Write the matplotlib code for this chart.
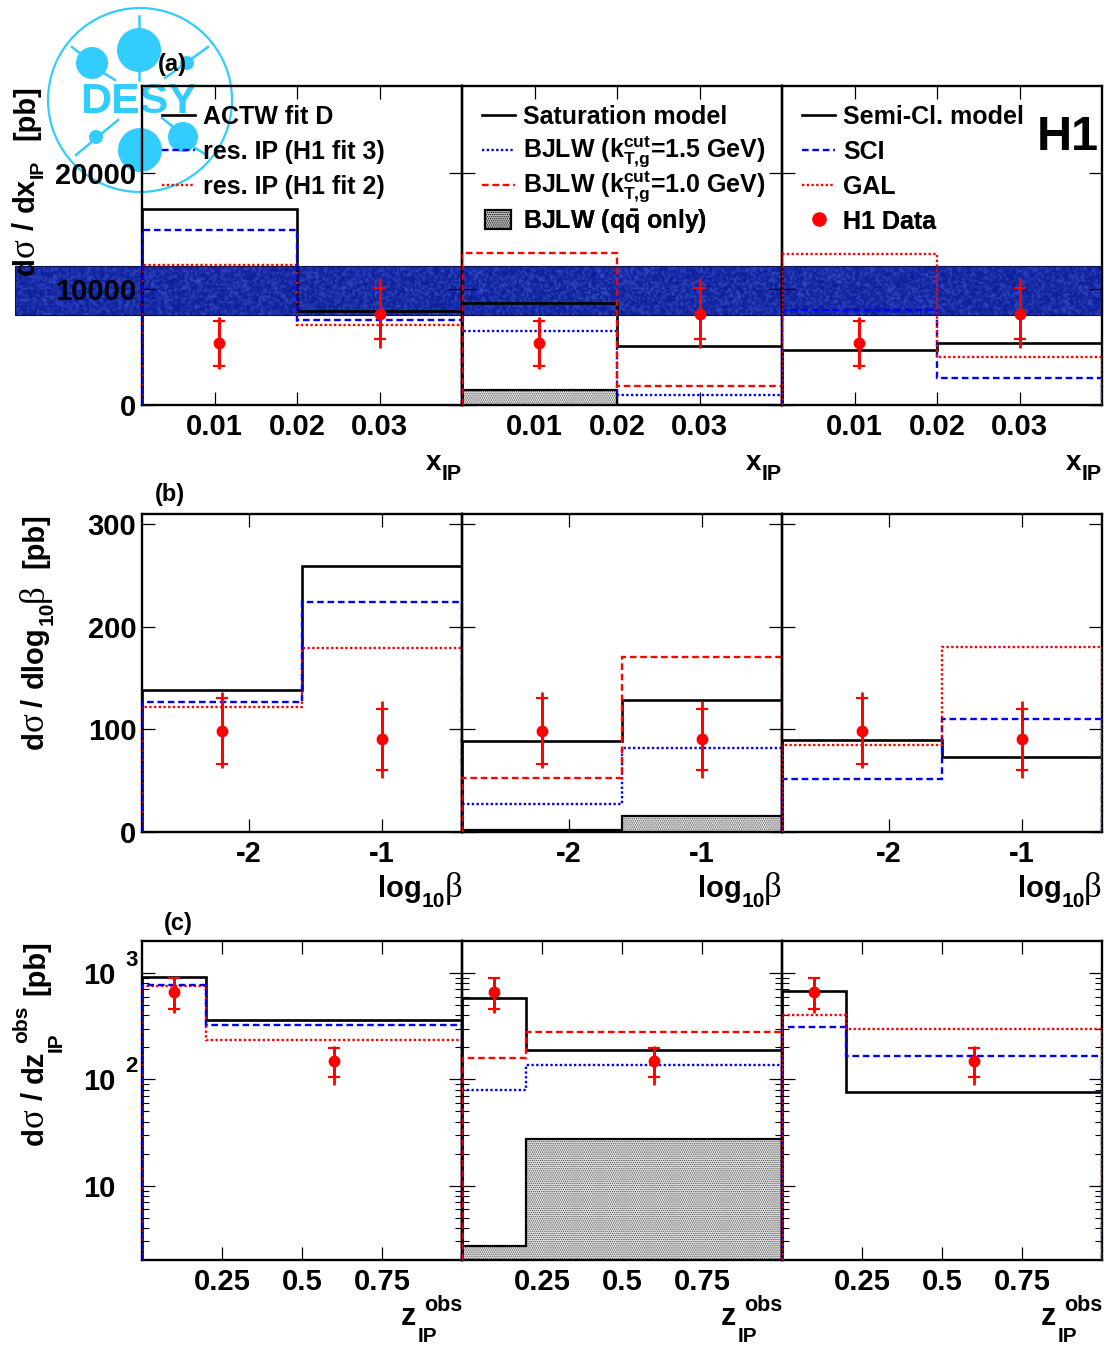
import matplotlib
matplotlib.use('Agg')
import matplotlib.pyplot as plt
from matplotlib.patches import Circle, Rectangle
import numpy as np

plt.rcParams['font.family'] = ['Liberation Sans', 'DejaVu Sans']
plt.rcParams['font.weight'] = 'bold'
plt.rcParams['mathtext.fontset'] = 'custom'
plt.rcParams['mathtext.rm'] = 'Liberation Sans:bold'
plt.rcParams['mathtext.bf'] = 'Liberation Sans:bold'
plt.rcParams['mathtext.it'] = 'Liberation Sans:bold'
plt.rcParams['mathtext.fallback'] = 'stix'
plt.rcParams['mathtext.default'] = 'bf'
plt.rcParams['hatch.linewidth'] = 0.6

W, H = 1104, 1346

# bin edges
edges_a = [0.0012, 0.02, 0.04]
edges_b = [-2.8, -1.6, -0.4]
edges_c = [0.0, 0.2, 1.0]

# row (a), d sigma / d x_IP
actw_a = [16900, 8100]
fit3_a = [15100, 7300]
fit2_a = [12100, 6900]
sat_a = [8800, 5100]
bjlw15_a = [6400, 860]
bjlw10_a = [13100, 1670]
qq_a = [1300, 0]
semi_a = [4770, 5350]
sci_a = [8200, 2300]
gal_a = [13000, 4130]
data_x_a = [0.0105, 0.03]
data_y_a = [5350, 7850]
stat_lo_a = [3390, 5680]
stat_hi_a = [7240, 10100]
tot_lo_a = [3100, 4900]
tot_hi_a = [7590, 10950]

# row (b), d sigma / d log10 beta
actw_b = [138, 259]
fit3_b = [127, 224]
fit2_b = [122, 179]
sat_b = [89, 129]
bjlw15_b = [27, 82]
bjlw10_b = [53, 171]
qq_b = [1.5, 16]
semi_b = [90, 73]
sci_b = [52, 110]
gal_b = [85, 180]
data_x_b = [-2.2, -1.0]
data_y_b = [98.6, 90.5]
stat_lo_b = [66, 60]
stat_hi_b = [131, 120]
tot_lo_b = [62, 53]
tot_hi_b = [136, 128]

# row (c), d sigma / d z_IP
actw_c = [918, 362]
fit3_c = [771, 323]
fit2_c = [755, 235]
sat_c = [587, 189]
bjlw15_c = [79, 137]
bjlw10_c = [158, 279]
qq_c = [2.71, 27.7]
semi_c = [680, 76]
sci_c = [310, 166]
gal_c = [403, 296]
data_x_c = [0.1, 0.6]
data_y_c = [668, 149]
stat_lo_c = [459, 105]
stat_hi_c = [906, 196]
tot_lo_c = [424, 88]
tot_hi_c = [925, 206]

legend_1 = ['ACTW fit D', 'res. IP (H1 fit 3)', 'res. IP (H1 fit 2)']
legend_2 = ['Saturation model',
            r'BJLW (k$_{\mathrm{T{,}g}}^{\mathrm{cut}}$=1.5 GeV)',
            r'BJLW (k$_{\mathrm{T{,}g}}^{\mathrm{cut}}$=1.0 GeV)',
            r'BJLW (q$\bar{\mathrm{q}}$ only)']
legend_3 = ['Semi-Cl. model', 'SCI', 'GAL', 'H1 Data']

black = dict(color='black', lw=1.9, ls='-')
blue_dash = dict(color='#0000ff', lw=1.7, ls=(0, (2.8, 1.6)))
blue_dot = dict(color='#0000ff', lw=1.7, ls=(0, (1, 1)))
red_dash = dict(color='#ff0000', lw=1.7, ls=(0, (2.8, 1.6)))
red_dot = dict(color='#ff0000', lw=1.7, ls=(0, (1, 1)))
LOGO = '#33ccff'
SERIF = dict(family='Liberation Serif', fontweight='normal')


def fx(px):
    return px / W


def fy(py):
    return 1 - py / H


def panel(left, top, width=320, height=319):
    ax = fig.add_axes([fx(left), fy(top + height), width / W, height / H], zorder=2)
    ax.patch.set_alpha(0)
    for s in ax.spines.values():
        s.set_linewidth(1.7)
    ax.tick_params(which='major', direction='in', top=True, right=True, length=9.5, width=0.9, labelsize=21)
    ax.tick_params(which='minor', direction='in', top=True, right=True, length=5, width=0.8)
    return ax


def draw_row(axs, edges, models, qq, dx, dy, slo, shi, tlo, thi, base):
    for ax, curves in zip(axs, models):
        if curves is models[1]:
            ax.stairs(qq, edges, baseline=base, fill=True, facecolor='#e4e4e4',
                      edgecolor='#444444', hatch='........', lw=0, zorder=2)
            ax.stairs(qq, edges, baseline=base, color='black', lw=1.6, zorder=2.5)
        for vals, style in curves:
            ax.stairs(vals, edges, baseline=base, zorder=3, **style)
        dx_, dy_ = np.array(dx), np.array(dy)
        ax.errorbar(dx_, dy_, yerr=[dy_ - np.array(tlo), np.array(thi) - dy_], fmt='none',
                    ecolor='#ff0000', elinewidth=2, zorder=4)
        ax.errorbar(dx_, dy_, yerr=[dy_ - np.array(slo), np.array(shi) - dy_], fmt='o', color='#ff0000',
                    ms=7.5, elinewidth=2, capsize=4.3, capthick=1.6, zorder=5)


def rot(x, y, s, size=21, **kw):
    # rotated piece of a y title, x is the baseline and y where the text starts
    fig.text(fx(x), fy(y), s, fontsize=size, rotation=90, ha='left', va='baseline',
             rotation_mode='anchor', zorder=6, **kw)


fig = plt.figure(figsize=(W / 100, H / 100), dpi=100, facecolor='white')

# background layer in pixel coordinates: logo and the blue strip
bg = fig.add_axes([0, 0, 1, 1], zorder=0)
bg.set_xlim(0, W)
bg.set_ylim(H, 0)
bg.axis('off')
yy, xx = np.mgrid[0:25, 0:544]
speckle = np.sin(xx * 12.9898 + yy * 78.233) * 43758.5453
speckle = speckle - np.floor(speckle)
strip = np.zeros(speckle.shape + (3,))
dark = np.array([0.05, 0.12, 0.60])
light = np.array([0.20, 0.30, 0.78])
for i in range(3):
    strip[:, :, i] = dark[i] + (light[i] - dark[i]) * speckle ** 2
bg.imshow(strip, extent=(15, 1102, 315, 266), aspect='auto', interpolation='bilinear', zorder=1)
bg.add_patch(Rectangle((15, 266), 1087, 49, fill=False, ec='#101040', lw=0.8, zorder=1.2))
bg.set_xlim(0, W)
bg.set_ylim(H, 0)

bg.add_patch(Circle((140, 100), 92, fill=False, ec=LOGO, lw=1.6, zorder=0.5))
for cx, cy, r in [(139, 50, 22), (92, 63, 16), (140, 150, 22), (183, 137, 15), (96, 137, 7), (187, 63, 7)]:
    bg.add_patch(Circle((cx, cy), r, fc=LOGO, ec='none', zorder=0.5))
for x0, y0, x1, y1 in [(139, 16, 139, 30), (139, 70, 139, 80), (72, 47, 82, 55), (102, 72, 115, 80),
                       (165, 78, 208, 47), (76, 155, 118, 120), (162, 118, 172, 126), (195, 148, 205, 154)]:
    bg.plot([x0, x1], [y0, y1], color=LOGO, lw=1.8, zorder=0.5)
bg.text(139, 102, 'DESY', color=LOGO, fontsize=31, ha='center', va='center', zorder=0.6)

lefts = [142, 462, 782]
axs_a = [panel(l, 86) for l in lefts]
axs_b = [panel(l, 514, height=318) for l in lefts]
axs_c = [panel(l, 941) for l in lefts]

draw_row(axs_a, edges_a,
         [[(actw_a, black), (fit2_a, red_dot), (fit3_a, blue_dash)],
          [(bjlw15_a, blue_dot), (sat_a, black), (bjlw10_a, red_dash)],
          [(semi_a, black), (sci_a, blue_dash), (gal_a, red_dot)]],
         qq_a, data_x_a, data_y_a, stat_lo_a, stat_hi_a, tot_lo_a, tot_hi_a, 0)
draw_row(axs_b, edges_b,
         [[(actw_b, black), (fit2_b, red_dot), (fit3_b, blue_dash)],
          [(bjlw15_b, blue_dot), (sat_b, black), (bjlw10_b, red_dash)],
          [(semi_b, black), (sci_b, blue_dash), (gal_b, red_dot)]],
         qq_b, data_x_b, data_y_b, stat_lo_b, stat_hi_b, tot_lo_b, tot_hi_b, 0)
draw_row(axs_c, edges_c,
         [[(actw_c, black), (fit2_c, red_dot), (fit3_c, blue_dash)],
          [(bjlw15_c, blue_dot), (sat_c, black), (bjlw10_c, red_dash)],
          [(semi_c, black), (sci_c, blue_dash), (gal_c, red_dot)]],
         qq_c, data_x_c, data_y_c, stat_lo_c, stat_hi_c, tot_lo_c, tot_hi_c, 2)

for i, ax in enumerate(axs_a):
    ax.set_xlim(0.0012, 0.04)
    ax.set_ylim(0, 27500)
    ax.set_xticks([0.01, 0.02, 0.03], ['0.01', '0.02', '0.03'])
    ax.set_yticks([0, 10000, 20000], ['0', '10000', '20000'] if i == 0 else [])
    ax.tick_params(axis='x', pad=5.5)
    ax.tick_params(axis='y', pad=4)
for i, ax in enumerate(axs_b):
    ax.set_xlim(-2.8, -0.4)
    ax.set_ylim(0, 310)
    ax.set_xticks([-2, -1], ['-2', '-1'])
    ax.set_yticks([0, 100, 200, 300], ['0', '100', '200', '300'] if i == 0 else [])
    ax.tick_params(axis='x', pad=5.5)
    ax.tick_params(axis='y', pad=4)
for i, ax in enumerate(axs_c):
    ax.set_yscale('log')
    ax.set_xlim(0, 1)
    ax.set_ylim(2, 2000)
    ax.set_xticks([0.25, 0.5, 0.75], ['0.25', '0.5', '0.75'])
    ax.set_yticks([10, 100, 1000], ['10', '10', '10'] if i == 0 else [])
    ax.set_yticks([m * d for d in (1, 10, 100) for m in range(2, 10) if m * d > 2], minor=True)
    ax.set_yticklabels([], minor=True)
    ax.tick_params(axis='x', pad=5.5)
    ax.tick_params(axis='y', pad=19)
fig.text(fx(125), fy(960), '3', fontsize=16, va='center', zorder=6)
fig.text(fx(125), fy(1067), '2', fontsize=16, va='center', zorder=6)

# axis titles
for l in lefts:
    fig.text(fx(l + 299), fy(470), 'x', fontsize=20, ha='right', va='baseline', zorder=6)
    fig.text(fx(l + 320), fy(480), 'IP', fontsize=15.5, ha='right', va='baseline', zorder=6)
    fig.text(fx(l + 280), fy(897), 'log', fontsize=21, ha='right', va='baseline', zorder=6)
    fig.text(fx(l + 303), fy(907), '10', fontsize=15, ha='right', va='baseline', zorder=6)
    fig.text(fx(l + 320), fy(897), '\u03b2', fontsize=25, ha='right', va='baseline', zorder=6, **SERIF)
    fig.text(fx(l + 274), fy(1325), 'z', fontsize=22, ha='right', va='baseline', zorder=6)
    fig.text(fx(l + 320), fy(1311), 'obs', fontsize=15.5, ha='right', va='baseline', zorder=6)
    fig.text(fx(l + 295), fy(1342), 'IP', fontsize=15, ha='right', va='baseline', zorder=6)

rot(34, 275, 'd')
rot(34, 257, '\u03c3', size=25, **SERIF)
rot(34, 230, '/')
rot(34, 212, 'dx')
rot(43, 178, 'IP', size=14)
rot(34, 140, '[pb]')

rot(43, 749, 'd')
rot(43, 731, '\u03c3', size=25, **SERIF)
rot(43, 707, '/')
rot(43, 688, 'dlog')
rot(53, 625, '10', size=15)
rot(43, 602, '\u03b2', size=25, **SERIF)
rot(43, 568, '[pb]')

rot(43, 1145, 'd')
rot(43, 1127, '\u03c3', size=25, **SERIF)
rot(43, 1100, '/')
rot(43, 1083, 'dz')
rot(27, 1043, 'obs', size=15)
rot(62, 1052, 'IP', size=15)
rot(44, 995, '[pb]')

fig.text(fx(158), fy(64), '(a)', fontsize=17, va='center', zorder=6)
fig.text(fx(155), fy(494.5), '(b)', fontsize=17, va='center', zorder=6)
fig.text(fx(164), fy(923.5), '(c)', fontsize=17, va='center', zorder=6)
fig.text(fx(1037), fy(150), 'H1', fontsize=35, va='baseline', zorder=6)

# hand placed legends, same layout as the ROOT TLegend
top = fig.add_axes([0, 0, 1, 1], zorder=5)
top.set_xlim(0, W)
top.set_ylim(H, 0)
top.axis('off')
rows = [115, 150, 185, 220]
for x0, labels, styles in [(162, legend_1, [black, blue_dash, red_dot]),
                           (482, legend_2, [black, blue_dot, red_dash]),
                           (802, legend_3, [black, blue_dash, red_dot])]:
    for y, lab, st in zip(rows, labels, styles):
        top.plot([x0, x0 + 33], [y, y], **st)
    for y, lab in zip(rows, labels):
        top.text(x0 + 41, y + 2, lab, fontsize=18, va='center')
top.add_patch(Rectangle((485, 210), 26, 19, fc='#c0c0c0', ec='black', hatch='........', lw=1.6))
top.plot([819], [219], 'o', color='#ff0000', ms=9.5)
top.text(843, 222, legend_3[3], fontsize=18, va='center')
top.text(523, 222, legend_2[3], fontsize=18, va='center')

fig.savefig('out.png', dpi=100)
